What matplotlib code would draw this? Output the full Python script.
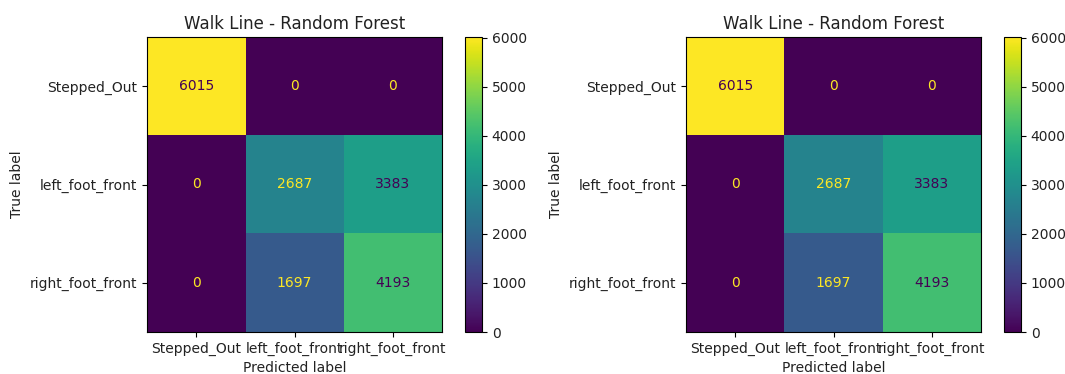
import numpy as np
import matplotlib
matplotlib.use("Agg")
import matplotlib.pyplot as plt

class_labels = ["Stepped_Out", "left_foot_front", "right_foot_front"]
matrix_left = [[6015, 0, 0],
               [0, 2687, 3383],
               [0, 1697, 4193]]
matrix_right = [[6015, 0, 0],
                [0, 2687, 3383],
                [0, 1697, 4193]]
titles = ["Walk Line - Random Forest", "Walk Line - Random Forest"]

plt.rcParams["text.color"] = "#222222"
plt.rcParams["axes.labelcolor"] = "#222222"
plt.rcParams["xtick.labelcolor"] = "#222222"
plt.rcParams["ytick.labelcolor"] = "#222222"

W, H = 1065, 374
fig = plt.figure(figsize=(W / 100, H / 100), dpi=100)
cmap = plt.get_cmap("viridis")


def draw_cm(ax_rect, cb_rect, cm, title):
    cm = np.asarray(cm)
    ax = fig.add_axes(ax_rect)
    cax = fig.add_axes(cb_rect)
    im = ax.imshow(cm, cmap=cmap, interpolation="nearest", aspect="auto")
    thresh = (cm.max() + cm.min()) / 2.0
    for i in range(cm.shape[0]):
        for j in range(cm.shape[1]):
            color = cmap(0.0) if cm[i, j] >= thresh else cmap(1.0)
            ax.text(j, i, f"{cm[i, j]}", ha="center", va="center",
                    color=color, fontsize=10)
    n = len(class_labels)
    ax.set_xticks(range(n))
    ax.set_yticks(range(n))
    ax.set_xticklabels(class_labels, fontsize=10)
    ax.set_yticklabels(class_labels, fontsize=10)
    ax.set_xlabel("Predicted label", fontsize=10)
    ax.set_ylabel("True label", fontsize=10)
    ax.set_title(title, fontsize=12)
    cb = fig.colorbar(im, cax=cax)
    cb.set_ticks([0, 1000, 2000, 3000, 4000, 5000, 6000])
    cb.ax.tick_params(labelsize=10)
    cb.outline.set_linewidth(0.8)


def rect(x0, y0, x1, y1):
    return [x0 / W, 1 - y1 / H, (x1 - x0) / W, (y1 - y0) / H]


draw_cm(rect(147, 37, 442, 332), rect(465, 37, 482, 332), matrix_left, titles[0])
draw_cm(rect(686, 37, 981, 332), rect(1004, 37, 1021, 332), matrix_right, titles[1])

fig.savefig("out.png", dpi=100)
